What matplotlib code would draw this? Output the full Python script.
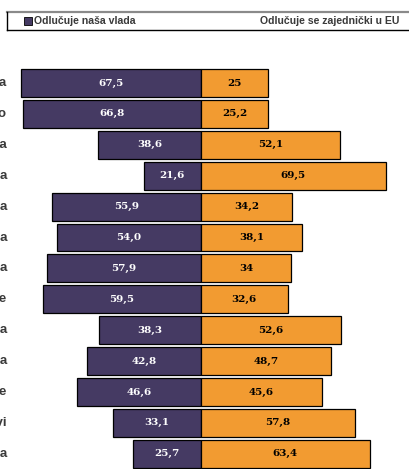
import matplotlib.pyplot as plt
from matplotlib.patches import Rectangle
from matplotlib.lines import Line2D

categories = ["Obrana", "Zdravstvo", "Zaštita okoliša", "Borba protiv terorizma",
              "Poljoprivreda", "Porezna politika", "Imigracijska politika",
              "Obrazovanje", "Energetska politika", "Vanjska politika",
              "Zapošljavanje", "Mirovinski sustavi", "Borba protiv kriminala"]
nasa_vlada = [67.5, 66.8, 38.6, 21.6, 55.9, 54.0, 57.9, 59.5, 38.3, 42.8, 46.6, 33.1, 25.7]
zajednicki_eu = [25, 25.2, 52.1, 69.5, 34.2, 38.1, 34, 32.6, 52.6, 48.7, 45.6, 57.8, 63.4]
eu_labels = ["25", "25,2", "52,1", "69,5", "34,2", "38,1", "34", "32,6",
             "52,6", "48,7", "45,6", "57,8", "63,4"]
legend_names = ["Odlučuje naša vlada", "Odlučuje se zajednički u EU"]

purple = "#453a63"
orange = "#f29b31"
grey_txt = "#3a3a3a"

W, H = 409, 469
fig = plt.figure(figsize=(W / 100, H / 100), dpi=100)
ax = fig.add_axes([0, 0, 1, 1])

# pixel mapping: center x=201, 2.66 px per unit; row i center at 83 + 30.9*i
px_unit = 2.66
x0 = 201
row0, step = 83, 30.9
ax.set_xlim(-x0 / px_unit, (W - x0) / px_unit)
ax.set_ylim((H - row0) / step, -row0 / step)
ax.axis("off")

ys = list(range(len(categories)))
ax.barh(ys, [-v for v in nasa_vlada], height=0.9, color=purple,
        edgecolor="black", linewidth=0.9)
ax.barh(ys, zajednicki_eu, height=0.9, color=orange,
        edgecolor="black", linewidth=0.9)

for i in ys:
    ax.text(-nasa_vlada[i] / 2, i, ("%.1f" % nasa_vlada[i]).replace(".", ","),
            ha="center", va="center", color="white", fontsize=7.5,
            fontweight="bold", family="DejaVu Serif")
    ax.text(zajednicki_eu[i] / 2, i, eu_labels[i], ha="center", va="center",
            color="black", fontsize=7.5, fontweight="bold", family="DejaVu Serif")
    # category labels, cut off at the left edge as in the original
    ax.text(7 / W, 1 - (row0 + step * i) / H, categories[i], transform=fig.transFigure,
            ha="right", va="center", color=grey_txt, fontsize=9.5,
            fontweight="bold", family="Liberation Sans")

# legend box on top
top, bot = 1 - 12 / H, 1 - 30 / H
fig.add_artist(Line2D([7 / W, 1], [top, top], color="#8a8a8a", lw=1.6))
fig.add_artist(Line2D([7 / W, 1], [bot, bot], color="black", lw=1))
fig.add_artist(Line2D([7 / W, 7 / W], [bot, top], color="black", lw=1))
fig.add_artist(Rectangle((24 / W, 1 - 25 / H), 8 / W, 8 / H, facecolor=purple,
                         edgecolor="black", lw=0.6))
mid = 1 - 21 / H
fig.text(34 / W, mid, legend_names[0], ha="left", va="center", color=grey_txt,
         fontsize=7.6, fontweight="bold", family="Liberation Sans")
fig.text(399 / W, mid, legend_names[1], ha="right", va="center", color=grey_txt,
         fontsize=7.6, fontweight="bold", family="Liberation Sans")

fig.savefig("out.png", dpi=100)
